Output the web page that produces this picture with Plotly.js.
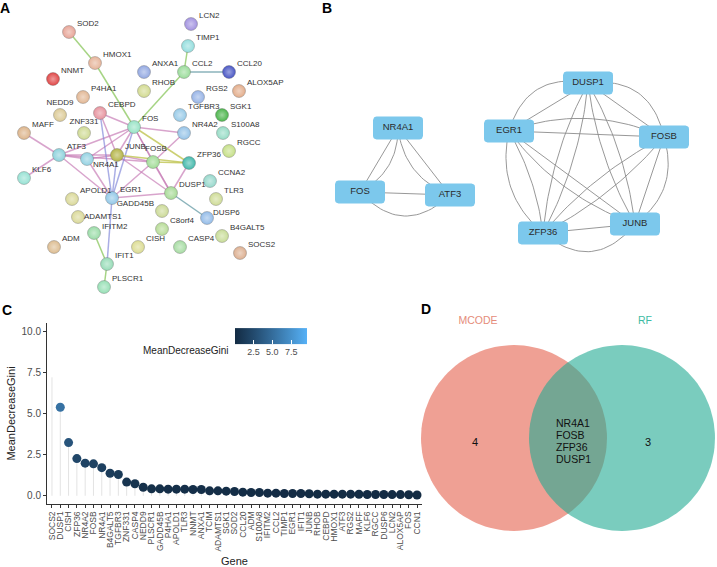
<!DOCTYPE html>
<html><head><meta charset="utf-8">
<script src="https://cdn.plot.ly/plotly-3.0.1.min.js"></script>
<style>html,body{margin:0;padding:0;background:#fff}#chart{width:717px;height:567px}</style>
</head><body><div id="chart"></div>
<script>
// ---------------- Panel A: STRING PPI network ----------------
const aNodes = ['SOD2','HMOX1','NNMT','LCN2','TIMP1','ANXA1','CCL2','CCL20','RHOB','ALOX5AP','P4HA1','RGS2','NEDD9','CEBPD','TGFBR3','SGK1','MAFF','ZNF331','FOS','NR4A2','S100A8','RGCC','ATF3','NR4A1','JUNB','FOSB','ZFP36','KLF6','CCNA2','DUSP1','EGR1','APOLD1','TLR3','ADAMTS1','GADD45B','DUSP6','C8orf4','IFITM2','B4GALT5','ADM','CISH','CASP4','SOCS2','IFIT1','PLSCR1'];
const aX = [69,95,53,191,188,144,184,229,144,239,83,198,60,100,180,222,24,84,134,184,223,229,59,87,117,153,189,24,210,171,112,72,216,78,162,207,162,94,222,54,138,180,240,107,104];
const aY = [32,63,79,24,46,72,72,72,91,91,97,97,115,113,115,115,133,133,127,133,133,151,155,159,155,162,163,178,181,193,198,199,199,217,211,218,229,233,236,247,247,247,253,264,287];
const aColors = ['#E7A598','#E6B49A','#E04848','#A393E0','#95DEDE','#94A9E2','#9BDC9B','#4A57C4','#D3DB92','#E3AE8C','#E2B896','#98B4E6','#DCCB97','#E7949F','#99CBE8','#4DB54D','#DDB58C','#CFDA95','#99E3C6','#97C4E8','#98DCC6','#C6E089','#8ED2DC','#95D2E2','#B5B54A','#A2DC98','#45B9AC','#98E2D4','#98D8CC','#A8DB98','#93C8E8','#DAD99A','#CFDC98','#DAD99A','#CCDA98','#94BCE8','#B8DC98','#9BDCA8','#C8DC98','#DDBD92','#DCDC94','#A8DCA4','#DDB092','#98DCB8','#98E0B6'];
const aEdges = [
  ['SOD2','HMOX1','g'],['HMOX1','FOS','g'],['TIMP1','CCL2','g'],['CCL2','CCL20','t'],['CCL2','FOS','g'],
  ['CEBPD','FOS','p'],['CEBPD','JUNB','p'],['CEBPD','EGR1','b'],['MAFF','ATF3','p'],['KLF6','ATF3','p'],
  ['ATF3','FOS','p'],['ATF3','JUNB','p'],['ATF3','FOSB','p'],['ATF3','EGR1','p'],['ATF3','NR4A1','p'],
  ['FOS','NR4A1','p'],['FOS','JUNB','p'],['FOS','FOSB','p'],['FOS','EGR1','b'],['FOS','ZFP36','y'],
  ['FOS','DUSP1','p'],['FOS','NR4A2','p'],['JUNB','FOSB','p'],['JUNB','EGR1','b'],['JUNB','ZFP36','y'],
  ['JUNB','DUSP1','p'],['FOSB','ZFP36','y'],['FOSB','NR4A2','p'],['FOSB','EGR1','p'],['FOSB','DUSP1','p'],
  ['ZFP36','DUSP1','p'],['EGR1','DUSP1','p'],['DUSP1','DUSP6','t'],['NR4A1','EGR1','p'],['NR4A1','JUNB','p'],
  ['EGR1','IFIT1','b'],['IFITM2','IFIT1','g'],['IFIT1','PLSCR1','g']
];

// ---------------- Panel B: MCODE modules ----------------
const bNodes = ['NR4A1','FOS','ATF3','DUSP1','EGR1','FOSB','ZFP36','JUNB'];
const bX = [398,360,450,588,509,664,543,635];
const bY = [128,192,195,83,131,137,233,224];
const bGroup = [0,0,0,1,1,1,1,1];
const bEdges = [
  ['NR4A1','FOS',0],['NR4A1','FOS',-0.3],['NR4A1','ATF3',0],['NR4A1','ATF3',-0.3],['FOS','ATF3',0],['FOS','ATF3',0.5],
  ['DUSP1','EGR1',0],['DUSP1','EGR1',0.45],['DUSP1','FOSB',0],['DUSP1','FOSB',0.45],['FOSB','JUNB',0],['FOSB','JUNB',0.35],
  ['JUNB','ZFP36',0],['JUNB','ZFP36',0.5],['ZFP36','EGR1',0.3],['ZFP36','EGR1',-0.1],
  ['DUSP1','ZFP36',0.1],['DUSP1','ZFP36',-0.1],['DUSP1','JUNB',0.1],['DUSP1','JUNB',-0.1],
  ['EGR1','FOSB',0],['EGR1','FOSB',0.2],['EGR1','JUNB',0],['EGR1','JUNB',0.15],['FOSB','ZFP36',0.1],['FOSB','ZFP36',-0.1]
];

// ---------------- Panel C: random forest importance ----------------
const genes = ['SOCS2','DUSP1','CISH','ZFP36','NR4A2','FOSB','NR4A1','B4GALT5','TGFBR3','ZNF331','CASP4','NEDD9','PLSCR1','GADD45B','P4HA1','APOLD1','TLR3','NNMT','ANXA1','TCIM','ADAMTS1','SGK1','SOD2','CCL20','ADM','S100A8','IFITM2','CCL2','TIMP1','EGR1','IFIT1','JUNB','RHOB','CEBPD','HMOX1','ATF3','RGS2','MAFF','KLF6','RGCC','DUSP6','LCN2','ALOX5AP','FOS','CCN1'];
const gini = [7.2,5.38,3.23,2.26,1.98,1.94,1.71,1.37,1.29,0.83,0.73,0.52,0.42,0.42,0.40,0.40,0.40,0.38,0.38,0.30,0.30,0.28,0.26,0.22,0.20,0.20,0.16,0.16,0.14,0.14,0.14,0.12,0.10,0.10,0.10,0.10,0.10,0.09,0.08,0.08,0.08,0.07,0.07,0.06,0.05];
const giniScale = [0.05, 9.6];

// ---------------- Panel D: Venn ----------------
const vennSets = ['MCODE','RF'];
const vennOnly = [4,3];
const vennShared = ['NR4A1','FOSB','ZFP36','DUSP1'];

// ================= build =================
const F = 'Arial, "Liberation Sans", sans-serif';
const W = 717, H = 567;
const traces = [];
const annotations = [];

// ---- A edges
const edgeCol = {p:'rgba(200,125,182,0.7)', g:'rgba(150,205,110,0.85)', b:'rgba(125,130,215,0.65)', y:'rgba(195,200,90,0.85)', t:'rgba(110,160,170,0.8)'};
Object.keys(edgeCol).forEach(k => {
  const xs = [], ys = [];
  aEdges.filter(e => e[2] === k).forEach(e => {
    const i = aNodes.indexOf(e[0]), j = aNodes.indexOf(e[1]);
    xs.push(aX[i], aX[j], null); ys.push(aY[i], aY[j], null);
  });
  traces.push({type:'scatter', mode:'lines', x:xs, y:ys, xaxis:'x', yaxis:'y',
    line:{color:edgeCol[k], width:1.5}, hoverinfo:'skip', showlegend:false});
});
// ---- A nodes
function lighten(hex, f){
  const n = parseInt(hex.slice(1),16);
  const r=(n>>16)&255, g=(n>>8)&255, b=n&255;
  const m = c => Math.round(c + (255-c)*f);
  return `rgb(${m(r)},${m(g)},${m(b)})`;
}
traces.push({type:'scatter', mode:'markers', x:aX, y:aY, xaxis:'x', yaxis:'y',
  marker:{size:13, color:aColors, gradient:{type:'radial', color:aColors.map(c => lighten(c,0.45))},
          line:{color:'rgba(90,90,90,0.55)', width:0.6}},
  text:aNodes, hoverinfo:'text', showlegend:false, cliponaxis:false});
// label placement (offset from node centre, px) and anchoring
const lblDefault = [8,-8,'middle right'];
const lblExc = {NEDD9:[0,-12,'middle center'], ZNF331:[0,-11,'middle center'], FOSB:[3,-13,'middle center'],
  GADD45B:[-8,-7,'middle left'], NR4A1:[6,6,'middle right'], ADAMTS1:[6,0,'middle right'],
  DUSP6:[6,-5,'middle right'], IFITM2:[8,-6,'middle right']};
const lbl = aNodes.map(n => lblExc[n] || lblDefault);
traces.push({type:'scatter', mode:'text', x:aX.map((v,i)=>v+lbl[i][0]), y:aY.map((v,i)=>v+lbl[i][1]),
  text:aNodes, textposition:lbl.map(l=>l[2]), xaxis:'x', yaxis:'y',
  textfont:{family:F, size:8, color:'#333'}, hoverinfo:'skip', showlegend:false, cliponaxis:false});

// ---- B edges
const cent = [0,1].map(g => {
  const idx = bNodes.map((n,i)=>i).filter(i => bGroup[i]===g);
  return [idx.reduce((s,i)=>s+bX[i],0)/idx.length, idx.reduce((s,i)=>s+bY[i],0)/idx.length];
});
const bxs = [], bys = [];
bEdges.forEach(e => {
  const i = bNodes.indexOf(e[0]), j = bNodes.indexOf(e[1]);
  const x0=bX[i], y0=bY[i], x2=bX[j], y2=bY[j];
  const mx=(x0+x2)/2, my=(y0+y2)/2, dx=x2-x0, dy=y2-y0, L=Math.hypot(dx,dy);
  let nx=-dy/L, ny=dx/L;
  const c = cent[bGroup[i]];
  if (nx*(mx-c[0]) + ny*(my-c[1]) < 0) { nx=-nx; ny=-ny; }
  const cx = mx + e[2]*L*nx, cy = my + e[2]*L*ny;
  for (let k=0;k<=30;k++){ const t=k/30;
    bxs.push((1-t)*(1-t)*x0 + 2*(1-t)*t*cx + t*t*x2);
    bys.push((1-t)*(1-t)*y0 + 2*(1-t)*t*cy + t*t*y2); }
  bxs.push(null); bys.push(null);
});
traces.push({type:'scatter', mode:'lines', x:bxs, y:bys, xaxis:'x', yaxis:'y',
  line:{color:'#8c8c8c', width:0.9}, hoverinfo:'skip', showlegend:false});
// ---- B node boxes
const bw = 25, bh = 11.5, br = 3.5;
bNodes.forEach((n,i) => {
  const xs=[], ys=[];
  const corners = [[bX[i]+bw-br, bY[i]-bh+br, -90],[bX[i]+bw-br, bY[i]+bh-br, 0],[bX[i]-bw+br, bY[i]+bh-br, 90],[bX[i]-bw+br, bY[i]-bh+br, 180]];
  corners.forEach(c => { for (let k=0;k<=6;k++){ const a=(c[2]+k*15)*Math.PI/180; xs.push(c[0]+br*Math.cos(a)); ys.push(c[1]+br*Math.sin(a)); } });
  xs.push(xs[0]); ys.push(ys[0]);
  traces.push({type:'scatter', mode:'lines', x:xs, y:ys, xaxis:'x', yaxis:'y', fill:'toself',
    fillcolor:'#7CC8EC', line:{width:0, color:'#7CC8EC'}, hoverinfo:'skip', showlegend:false});
});
traces.push({type:'scatter', mode:'text', x:bX, y:bY, text:bNodes, xaxis:'x', yaxis:'y',
  textfont:{family:F, size:9.5, color:'#2b2b2b'}, hoverinfo:'text', showlegend:false});

// ---- D Venn
const vennC = [[514,438],[622,438]], vennR = 93;
const vennFill = ['rgba(228,97,77,0.6)','rgba(33,170,147,0.6)'];
vennSets.forEach((s,k) => {
  const xs=[], ys=[];
  for (let a=0;a<=360;a+=3){ xs.push(vennC[k][0]+vennR*Math.cos(a*Math.PI/180)); ys.push(vennC[k][1]+vennR*Math.sin(a*Math.PI/180)); }
  traces.push({type:'scatter', mode:'lines', x:xs, y:ys, xaxis:'x', yaxis:'y', fill:'toself',
    fillcolor:vennFill[k], line:{width:0}, hoverinfo:'skip', showlegend:false});
});
traces.push({type:'scatter', mode:'text', x:[475,648], y:[443,443], text:vennOnly.map(String),
  xaxis:'x', yaxis:'y', textfont:{family:F, size:11, color:'#111'}, hoverinfo:'skip', showlegend:false});
traces.push({type:'scatter', mode:'text', x:vennShared.map(()=>556), y:vennShared.map((g,i)=>424+i*12.2),
  text:vennShared, textposition:'middle right', xaxis:'x', yaxis:'y',
  textfont:{family:F, size:10.5, color:'#111'}, hoverinfo:'skip', showlegend:false});
traces.push({type:'scatter', mode:'text', x:[478,645], y:[321,321], text:vennSets, xaxis:'x', yaxis:'y',
  textfont:{family:F, size:10.5, color:['#E58C7A','#3DBBA3']}, hoverinfo:'skip', showlegend:false});

// ---- C lollipop
const sx=[], sy=[];
genes.forEach((g,i) => { sx.push(g,g,null); sy.push(0,gini[i],null); });
traces.push({type:'scatter', mode:'lines', x:sx, y:sy, xaxis:'x2', yaxis:'y2',
  line:{color:'#e3e3e3', width:1}, hoverinfo:'skip', showlegend:false});
traces.push({type:'scatter', mode:'markers', x:genes, y:gini, xaxis:'x2', yaxis:'y2', showlegend:false,
  marker:{size:9, color:gini, cmin:giniScale[0], cmax:giniScale[1],
    colorscale:[[0,'#132B43'],[0.25,'#22496C'],[0.5,'#336A98'],[0.75,'#448DC6'],[1,'#56B1F7']],
    opacity:gini.map((v,i)=> i===0 ? 0 : 1),
    showscale:true,
    colorbar:{orientation:'h', x:271/W, xanchor:'center', y:1-345/H, yanchor:'middle',
      len:72, lenmode:'pixels', thickness:16, thicknessmode:'pixels', outlinewidth:0,
      xpad:0, ypad:0, tickvals:[2.5,5,7.5], ticktext:['2.5','5.0','7.5'],
      ticks:'inside', ticklen:4, tickcolor:'#ffffff', tickfont:{family:F, size:9, color:'#4d4d4d'}}}});

annotations.push({xref:'paper', yref:'paper', x:231/W, y:1-350/H, xanchor:'right', yanchor:'middle',
  text:'MeanDecreaseGini', showarrow:false, font:{family:F, size:10, color:'#222'}});
[['A',5,8],['B',327,8],['C',7,310],['D',426,309]].forEach(p => annotations.push({
  xref:'paper', yref:'paper', x:p[1]/W, y:1-p[2]/H, xanchor:'center', yanchor:'middle',
  text:'<b>'+p[0]+'</b>', showarrow:false, font:{family:F, size:14, color:'#000'}}));

const layout = {
  width:W, height:H, autosize:false, margin:{l:0,r:0,t:0,b:0},
  paper_bgcolor:'#fff', plot_bgcolor:'rgba(0,0,0,0)', showlegend:false,
  font:{family:F},
  xaxis:{domain:[0,1], range:[0,W], visible:false, fixedrange:true},
  yaxis:{domain:[0,1], range:[H,0], visible:false, fixedrange:true},
  xaxis2:{domain:[47/W, 422/W], anchor:'y2', type:'category', range:[-0.6, genes.length-0.4],
    tickmode:'array', tickvals:genes, ticktext:genes,
    showline:true, linecolor:'#333', linewidth:1, ticks:'outside', ticklen:3, tickcolor:'#333',
    tickangle:-90, tickfont:{family:F, size:8.5, color:'#4d4d4d'}, showgrid:false, zeroline:false,
    title:{text:'Gene', font:{family:F, size:11, color:'#222'}, standoff:6}},
  yaxis2:{domain:[1-504/H, 1-323/H], anchor:'x2', range:[-0.5,10.5],
    tickvals:[0,2.5,5,7.5,10], ticktext:['0.0','2.5','5.0','7.5','10.0'],
    showline:true, linecolor:'#333', linewidth:1, ticks:'outside', ticklen:3, tickcolor:'#333',
    tickfont:{family:F, size:10, color:'#4d4d4d'}, showgrid:false, zeroline:false,
    title:{text:'MeanDecreaseGini', font:{family:F, size:11, color:'#222'}, standoff:3}},
  annotations:annotations
};
Plotly.newPlot('chart', traces, layout, {displayModeBar:false, staticPlot:true});
</script></body></html>
